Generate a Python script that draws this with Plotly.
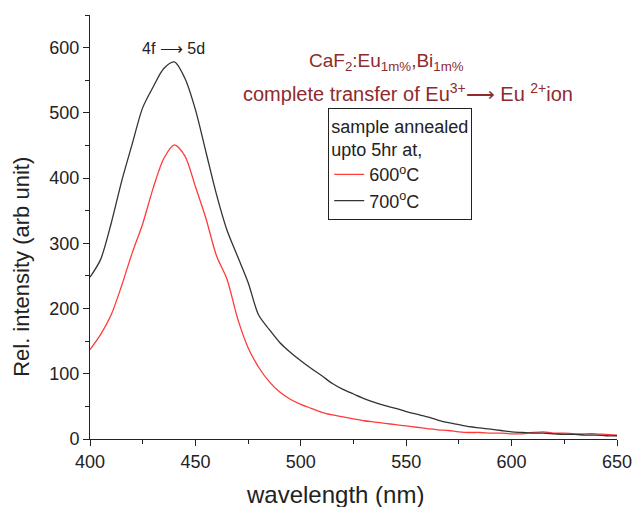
import plotly.graph_objects as go

wavelength = [400, 405, 410, 415, 420, 425, 430, 435, 440, 445, 450, 455, 460, 465, 470,
              475, 480, 485, 490, 495, 500, 505, 510, 515, 520, 525, 530, 535, 540, 545,
              550, 555, 560, 565, 570, 575, 580, 585, 590, 595, 600, 605, 610, 615, 620,
              625, 630, 635, 640, 645, 650]

int_700 = [248, 275, 330, 395, 452, 508, 540, 568, 578, 553, 505, 440, 375, 320, 280,
           240, 190, 168, 148, 133, 120, 108, 97, 85, 76, 69, 62, 56, 51, 47,
           42, 38, 34, 29, 25, 22, 19, 17, 15, 13, 11, 10, 9, 9, 8,
           7, 7, 6, 6, 5, 5]

int_600 = [137, 160, 190, 235, 285, 330, 385, 430, 451, 434, 387, 338, 281, 245, 185,
           140, 110, 88, 72, 61, 53, 47, 41, 37, 34, 31, 28, 26, 24, 22,
           20, 18, 16, 14, 13, 11, 10, 10, 9, 9, 8, 8, 10, 11, 9,
           9, 8, 8, 8, 7, 6]

x_ticks = [400, 450, 500, 550, 600, 650]
y_ticks = [0, 100, 200, 300, 400, 500, 600]

FONT = "Arial, Liberation Sans, sans-serif"
DARKRED = "#8e2b2e"

fig = go.Figure()
fig.add_trace(go.Scatter(x=wavelength, y=int_600, mode="lines", name="600<sup>o</sup>C",
                         line=dict(color="#ff3b3b", width=1.3, shape="spline", smoothing=0.8)))
fig.add_trace(go.Scatter(x=wavelength, y=int_700, mode="lines", name="700<sup>o</sup>C",
                         line=dict(color="#333333", width=1.3, shape="spline", smoothing=0.8)))

fig.update_layout(
    width=633, height=507,
    margin=dict(l=90, r=16, t=15, b=68),
    paper_bgcolor="white", plot_bgcolor="white",
    font=dict(family=FONT, color="#222222", size=18),
    showlegend=True,
    legend=dict(
        x=0.452, y=0.78, xanchor="left", yanchor="top",
        bordercolor="#222222", borderwidth=1, bgcolor="white",
        title=dict(text="sample annealed<br>upto 5hr at,", font=dict(size=18, family=FONT)),
        font=dict(size=18, family=FONT), tracegroupgap=0,
    ),
    xaxis=dict(
        range=[400, 650], tickvals=x_ticks, ticks="outside", ticklen=6, tickwidth=1,
        tickcolor="#222222", showline=True, linecolor="#222222", linewidth=1,
        showgrid=False, zeroline=False, tickfont=dict(size=18), automargin=False,
        minor=dict(dtick=25, tick0=400, ticks="outside", ticklen=4, tickcolor="#222222", showgrid=False),
    ),
    yaxis=dict(
        range=[0, 650], tickvals=y_ticks, ticks="outside", ticklen=6, tickwidth=1,
        tickcolor="#222222", showline=True, linecolor="#222222", linewidth=1,
        showgrid=False, zeroline=False, tickfont=dict(size=18), automargin=False,
        minor=dict(dtick=50, tick0=0, ticks="outside", ticklen=4, tickcolor="#222222", showgrid=False),
    ),
)

fig.add_annotation(x=0.465, y=-0.132, xref="paper", yref="paper", text="wavelength (nm)",
                   showarrow=False, xanchor="center", yanchor="middle",
                   font=dict(size=24, color="#222222", family=FONT))
fig.add_annotation(x=-0.129, y=0.406, xref="paper", yref="paper", text="Rel. intensity (arb unit)",
                   textangle=-90, showarrow=False, xanchor="center", yanchor="middle",
                   font=dict(size=22, color="#222222", family=FONT))
fig.add_annotation(x=0.1575, y=0.92, xref="paper", yref="paper", text="4f ⟶ 5d",
                   showarrow=False, xanchor="center", yanchor="middle",
                   font=dict(size=16, color="#222222", family=FONT))
fig.add_annotation(x=0.562, y=0.889, xref="paper", yref="paper",
                   text="CaF<sub>2</sub>:Eu<sub>1m%</sub>,Bi<sub>1m%</sub>",
                   showarrow=False, xanchor="center", yanchor="middle",
                   font=dict(size=19, color=DARKRED, family=FONT))
fig.add_annotation(x=0.604, y=0.818, xref="paper", yref="paper",
                   text="complete transfer of Eu<sup>3+</sup>⟶ Eu <sup>2+</sup>ion",
                   showarrow=False, xanchor="center", yanchor="middle",
                   font=dict(size=20, color=DARKRED, family=FONT))

fig.write_html("out.html")
